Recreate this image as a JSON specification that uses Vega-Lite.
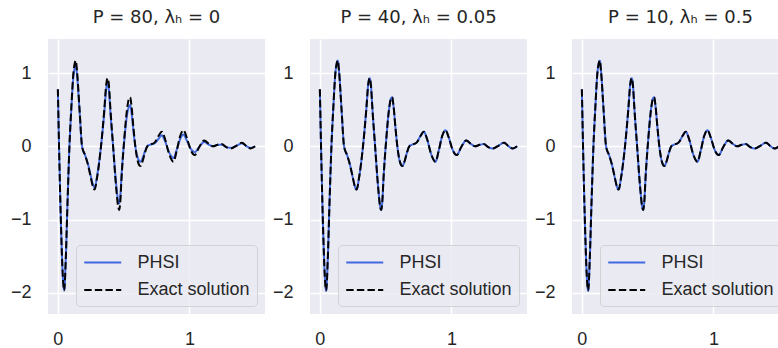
{
  "$schema": "https://vega.github.io/schema/vega-lite/v6.json",
  "padding": {"left": 10, "top": 9, "right": 0, "bottom": 0},
  "bounds": "flush",
  "spacing": 45,
  "datasets": {
    "exact": [
      {"x": 0.000, "y": 0.78}, {"x": 0.012, "y": -0.25}, {"x": 0.025, "y": -1.15}, {"x": 0.037, "y": -1.75},
      {"x": 0.048, "y": -1.97}, {"x": 0.060, "y": -1.55}, {"x": 0.072, "y": -0.85}, {"x": 0.088, "y": 0.00},
      {"x": 0.103, "y": 0.55}, {"x": 0.118, "y": 1.00}, {"x": 0.128, "y": 1.13}, {"x": 0.136, "y": 1.17},
      {"x": 0.146, "y": 1.02}, {"x": 0.165, "y": 0.50}, {"x": 0.184, "y": 0.00}, {"x": 0.209, "y": -0.13},
      {"x": 0.230, "y": -0.26}, {"x": 0.252, "y": -0.44}, {"x": 0.268, "y": -0.56}, {"x": 0.280, "y": -0.59},
      {"x": 0.297, "y": -0.44}, {"x": 0.328, "y": 0.00}, {"x": 0.353, "y": 0.50}, {"x": 0.368, "y": 0.85},
      {"x": 0.378, "y": 0.93}, {"x": 0.388, "y": 0.84}, {"x": 0.400, "y": 0.50}, {"x": 0.420, "y": 0.00},
      {"x": 0.445, "y": -0.60}, {"x": 0.458, "y": -0.82}, {"x": 0.466, "y": -0.87}, {"x": 0.475, "y": -0.75},
      {"x": 0.484, "y": -0.44}, {"x": 0.505, "y": 0.10}, {"x": 0.527, "y": 0.52}, {"x": 0.540, "y": 0.65},
      {"x": 0.550, "y": 0.67}, {"x": 0.560, "y": 0.55}, {"x": 0.575, "y": 0.25}, {"x": 0.589, "y": 0.00},
      {"x": 0.610, "y": -0.22}, {"x": 0.627, "y": -0.27}, {"x": 0.645, "y": -0.20}, {"x": 0.660, "y": -0.10},
      {"x": 0.680, "y": 0.00}, {"x": 0.698, "y": 0.02}, {"x": 0.735, "y": 0.05}, {"x": 0.765, "y": 0.14},
      {"x": 0.790, "y": 0.20}, {"x": 0.815, "y": 0.10}, {"x": 0.845, "y": -0.10}, {"x": 0.879, "y": -0.21},
      {"x": 0.905, "y": -0.05}, {"x": 0.930, "y": 0.14}, {"x": 0.955, "y": 0.22}, {"x": 0.980, "y": 0.12},
      {"x": 1.010, "y": -0.05}, {"x": 1.040, "y": -0.12}, {"x": 1.075, "y": -0.01}, {"x": 1.113, "y": 0.08},
      {"x": 1.150, "y": 0.03}, {"x": 1.180, "y": 0.00}, {"x": 1.215, "y": 0.02}, {"x": 1.246, "y": 0.03},
      {"x": 1.280, "y": -0.01}, {"x": 1.314, "y": -0.03}, {"x": 1.360, "y": 0.01}, {"x": 1.400, "y": 0.05},
      {"x": 1.435, "y": 0.00}, {"x": 1.465, "y": -0.03}, {"x": 1.500, "y": 0.00}
    ],
    "phsi1": [
      {"x": 0.000, "y": 0.78}, {"x": 0.012, "y": -0.25}, {"x": 0.025, "y": -1.15}, {"x": 0.037, "y": -1.75},
      {"x": 0.048, "y": -1.96}, {"x": 0.060, "y": -1.55}, {"x": 0.072, "y": -0.85}, {"x": 0.088, "y": 0.00},
      {"x": 0.103, "y": 0.53}, {"x": 0.118, "y": 0.95}, {"x": 0.128, "y": 1.07}, {"x": 0.136, "y": 1.11},
      {"x": 0.146, "y": 0.97}, {"x": 0.165, "y": 0.48}, {"x": 0.184, "y": 0.00}, {"x": 0.209, "y": -0.13},
      {"x": 0.230, "y": -0.25}, {"x": 0.252, "y": -0.42}, {"x": 0.268, "y": -0.53}, {"x": 0.280, "y": -0.56},
      {"x": 0.297, "y": -0.42}, {"x": 0.328, "y": 0.00}, {"x": 0.353, "y": 0.46}, {"x": 0.368, "y": 0.79},
      {"x": 0.378, "y": 0.86}, {"x": 0.388, "y": 0.77}, {"x": 0.400, "y": 0.45}, {"x": 0.420, "y": 0.00},
      {"x": 0.445, "y": -0.55}, {"x": 0.458, "y": -0.74}, {"x": 0.466, "y": -0.78}, {"x": 0.475, "y": -0.68},
      {"x": 0.484, "y": -0.40}, {"x": 0.505, "y": 0.08}, {"x": 0.527, "y": 0.44}, {"x": 0.540, "y": 0.54},
      {"x": 0.550, "y": 0.56}, {"x": 0.560, "y": 0.46}, {"x": 0.575, "y": 0.20}, {"x": 0.589, "y": 0.00},
      {"x": 0.610, "y": -0.17}, {"x": 0.627, "y": -0.21}, {"x": 0.645, "y": -0.16}, {"x": 0.660, "y": -0.08},
      {"x": 0.680, "y": 0.00}, {"x": 0.698, "y": 0.02}, {"x": 0.735, "y": 0.04}, {"x": 0.765, "y": 0.10},
      {"x": 0.790, "y": 0.15}, {"x": 0.815, "y": 0.07}, {"x": 0.845, "y": -0.08}, {"x": 0.879, "y": -0.16},
      {"x": 0.905, "y": -0.04}, {"x": 0.930, "y": 0.10}, {"x": 0.955, "y": 0.16}, {"x": 0.980, "y": 0.08},
      {"x": 1.010, "y": -0.03}, {"x": 1.040, "y": -0.08}, {"x": 1.075, "y": -0.01}, {"x": 1.113, "y": 0.06},
      {"x": 1.150, "y": 0.02}, {"x": 1.180, "y": 0.00}, {"x": 1.215, "y": 0.02}, {"x": 1.246, "y": 0.02},
      {"x": 1.280, "y": -0.01}, {"x": 1.314, "y": -0.02}, {"x": 1.360, "y": 0.01}, {"x": 1.400, "y": 0.04},
      {"x": 1.435, "y": 0.00}, {"x": 1.465, "y": -0.02}, {"x": 1.500, "y": 0.00}
    ]
  },
  "hconcat": [
    {
      "width": 217, "height": 275,
      "title": "P = 80, λₕ = 0",
      "layer": [
        {
          "data": {"name": "phsi1"},
          "mark": {"type": "line", "strokeWidth": 2, "interpolate": "monotone"},
          "encoding": {
            "x": {"field": "x", "type": "quantitative", "title": null, "scale": {"domain": [-0.075, 1.575], "nice": false, "zero": false}, "axis": {"values": [0, 1], "format": "d"}},
            "y": {"field": "y", "type": "quantitative", "title": null, "scale": {"domain": [-2.29, 1.465], "nice": false, "zero": false}, "axis": {"values": [-2, -1, 0, 1], "format": "d"}},
            "color": {"datum": "PHSI", "type": "nominal", "scale": {"domain": ["PHSI", "Exact solution"], "range": ["#4169E1", "#000000"]}, "legend": {"title": null}},
            "strokeDash": {"datum": "PHSI", "type": "nominal", "scale": {"domain": ["PHSI", "Exact solution"], "range": [[1, 0], [7.4, 3.2]]}, "legend": {"title": null}}
          }
        },
        {
          "data": {"name": "exact"},
          "mark": {"type": "line", "strokeWidth": 2, "interpolate": "monotone"},
          "encoding": {
            "x": {"field": "x", "type": "quantitative"},
            "y": {"field": "y", "type": "quantitative"},
            "color": {"datum": "Exact solution", "type": "nominal"},
            "strokeDash": {"datum": "Exact solution", "type": "nominal"}
          }
        }
      ]
    },
    {
      "width": 217, "height": 275,
      "title": "P = 40, λₕ = 0.05",
      "layer": [
        {
          "data": {"name": "exact"},
          "mark": {"type": "line", "strokeWidth": 2, "interpolate": "monotone"},
          "encoding": {
            "x": {"field": "x", "type": "quantitative", "title": null, "scale": {"domain": [-0.075, 1.575], "nice": false, "zero": false}, "axis": {"values": [0, 1], "format": "d"}},
            "y": {"field": "y", "type": "quantitative", "title": null, "scale": {"domain": [-2.29, 1.465], "nice": false, "zero": false}, "axis": {"values": [-2, -1, 0, 1], "format": "d"}},
            "color": {"datum": "PHSI", "type": "nominal", "scale": {"domain": ["PHSI", "Exact solution"], "range": ["#4169E1", "#000000"]}, "legend": {"title": null}},
            "strokeDash": {"datum": "PHSI", "type": "nominal", "scale": {"domain": ["PHSI", "Exact solution"], "range": [[1, 0], [7.4, 3.2]]}, "legend": {"title": null}}
          }
        },
        {
          "data": {"name": "exact"},
          "mark": {"type": "line", "strokeWidth": 2, "interpolate": "monotone"},
          "encoding": {
            "x": {"field": "x", "type": "quantitative"},
            "y": {"field": "y", "type": "quantitative"},
            "color": {"datum": "Exact solution", "type": "nominal"},
            "strokeDash": {"datum": "Exact solution", "type": "nominal"}
          }
        }
      ]
    },
    {
      "width": 217, "height": 275,
      "title": "P = 10, λₕ = 0.5",
      "layer": [
        {
          "data": {"name": "exact"},
          "mark": {"type": "line", "strokeWidth": 2, "interpolate": "monotone"},
          "encoding": {
            "x": {"field": "x", "type": "quantitative", "title": null, "scale": {"domain": [-0.075, 1.575], "nice": false, "zero": false}, "axis": {"values": [0, 1], "format": "d"}},
            "y": {"field": "y", "type": "quantitative", "title": null, "scale": {"domain": [-2.29, 1.465], "nice": false, "zero": false}, "axis": {"values": [-2, -1, 0, 1], "format": "d"}},
            "color": {"datum": "PHSI", "type": "nominal", "scale": {"domain": ["PHSI", "Exact solution"], "range": ["#4169E1", "#000000"]}, "legend": {"title": null}},
            "strokeDash": {"datum": "PHSI", "type": "nominal", "scale": {"domain": ["PHSI", "Exact solution"], "range": [[1, 0], [7.4, 3.2]]}, "legend": {"title": null}}
          }
        },
        {
          "data": {"name": "exact"},
          "mark": {"type": "line", "strokeWidth": 2, "interpolate": "monotone"},
          "encoding": {
            "x": {"field": "x", "type": "quantitative"},
            "y": {"field": "y", "type": "quantitative"},
            "color": {"datum": "Exact solution", "type": "nominal"},
            "strokeDash": {"datum": "Exact solution", "type": "nominal"}
          }
        }
      ]
    }
  ],
  "resolve": {
    "scale": {"color": "independent", "strokeDash": "independent", "x": "independent", "y": "independent"},
    "legend": {"color": "independent", "strokeDash": "independent"}
  },
  "config": {
    "view": {"fill": "#EAEAF2", "stroke": null},
    "axis": {
      "domain": false, "ticks": false, "grid": true, "gridColor": "#FFFFFF", "gridWidth": 1.5,
      "labelFont": "Liberation Sans", "labelFontSize": 18, "labelColor": "#262626"
    },
    "axisX": {"labelPadding": 16},
    "axisY": {"labelPadding": 17},
    "title": {"font": "DejaVu Sans", "fontSize": 18, "fontWeight": "normal", "color": "#262626", "baseline": "alphabetic", "offset": 12},
    "legend": {
      "orient": "bottom-right", "offset": 8, "padding": 7,
      "fillColor": "rgba(234,234,242,0.8)", "strokeColor": "rgba(204,204,204,0.8)", "cornerRadius": 4,
      "labelFont": "Liberation Sans", "labelFontSize": 18, "labelColor": "#262626",
      "symbolType": "M-1,0H3", "symbolSize": 342, "symbolStrokeWidth": 2,
      "labelOffset": 33.5, "rowPadding": 7.5
    }
  }
}
